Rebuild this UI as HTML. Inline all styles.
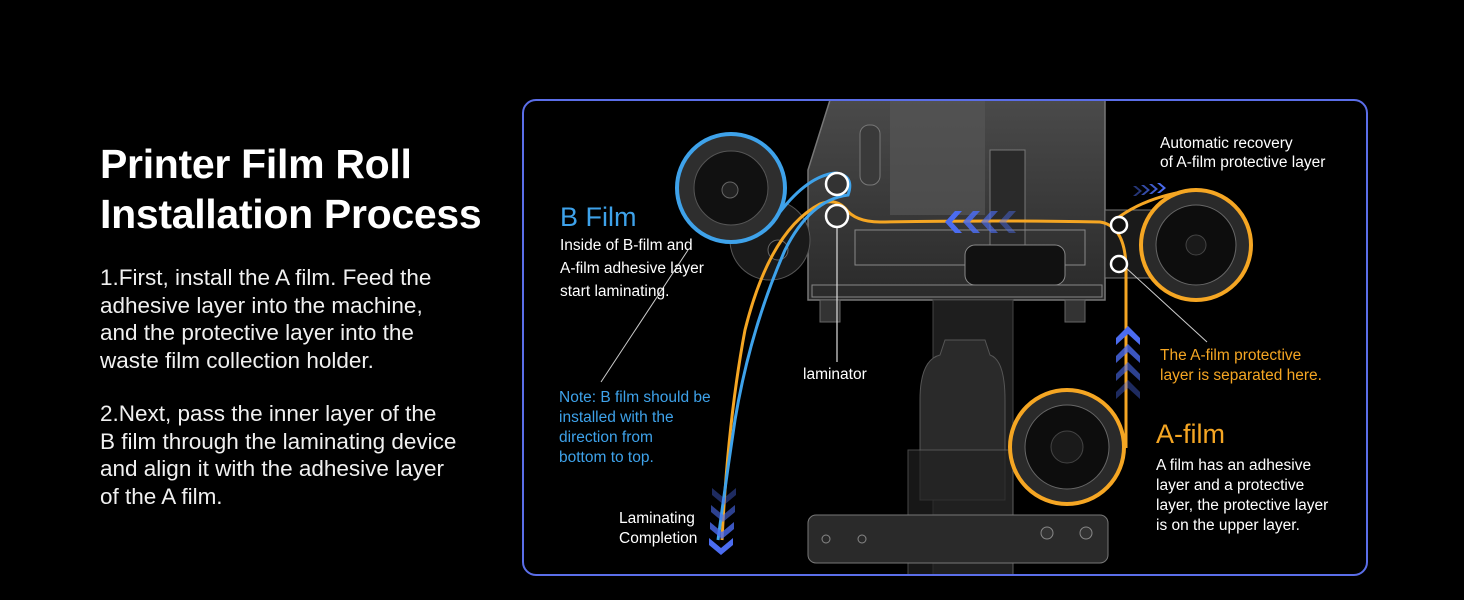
<!DOCTYPE html>
<html><head><meta charset="utf-8"><style>
html,body{margin:0;padding:0;background:#000;}
body{width:1464px;height:600px;position:relative;overflow:hidden;font-family:"Liberation Sans",sans-serif;color:#fff;}
.h{position:absolute;left:100px;top:139px;font-size:41px;font-weight:bold;line-height:50px;letter-spacing:-0.3px;}
.p{position:absolute;left:100px;font-size:22.5px;line-height:27.5px;color:#f0f0f0;}
svg{position:absolute;left:0;top:0;}
</style></head><body>
<div class="h">Printer Film Roll<br>Installation Process</div>
<div class="p" style="top:264px">1.First, install the A film. Feed the<br>adhesive layer into the machine,<br>and the protective layer into the<br>waste film collection holder.</div>
<div class="p" style="top:400px">2.Next, pass the inner layer of the<br>B film through the laminating device<br>and align it with the adhesive layer<br>of the A film.</div>
<svg width="1464" height="600" viewBox="0 0 1464 600" font-family="Liberation Sans, sans-serif">
<defs>
<linearGradient id="bd" x1="0" y1="0" x2="0" y2="1"><stop offset="0" stop-color="#4a4a4a"/><stop offset="1" stop-color="#2a2a2a"/></linearGradient>
<clipPath id="cp"><rect x="523" y="100" width="844" height="475" rx="13"/></clipPath>
</defs>
<g clip-path="url(#cp)">
<path d="M830 100 L1105 100 L1105 300 L808 300 L808 170 Z" fill="url(#bd)" stroke="#777" stroke-width="1.5"/>
<rect x="890" y="100" width="95" height="115" fill="#555" opacity="0.7"/>
<rect x="860" y="125" width="20" height="60" rx="9" fill="#3a3a3a" stroke="#777"/>
<rect x="990" y="150" width="35" height="120" fill="#2a2a2a" stroke="#777"/>
<rect x="855" y="230" width="230" height="35" fill="none" stroke="#888"/>
<rect x="965" y="245" width="100" height="40" rx="10" fill="#111" stroke="#888"/>
<rect x="812" y="285" width="290" height="12" fill="none" stroke="#888"/>
<rect x="1105" y="210" width="80" height="68" fill="#1a1a1a" stroke="#777"/>
<circle cx="770" cy="240" r="40" fill="#1a1a1a" stroke="#555"/>
<circle cx="778" cy="250" r="10" fill="#111" stroke="#666"/>
<rect x="820" y="300" width="20" height="22" fill="#333" stroke="#666"/>
<rect x="1065" y="300" width="20" height="22" fill="#333" stroke="#666"/>
<rect x="933" y="300" width="80" height="280" fill="#1e1e1e" stroke="#444"/>
<path d="M920 400 Q920 360 940 355 L945 340 L985 340 L990 355 Q1005 360 1005 400 L1005 500 L920 500 Z" fill="#2a2a2a" stroke="#555"/>
<rect x="908" y="450" width="105" height="125" fill="#222" opacity="0.7" stroke="#666"/>
<rect x="808" y="515" width="300" height="48" rx="8" fill="#2a2a2a" stroke="#777"/>
<circle cx="826" cy="539" r="4" fill="none" stroke="#888"/>
<circle cx="862" cy="539" r="4" fill="none" stroke="#888"/>
<circle cx="1047" cy="533" r="6" fill="#333" stroke="#888"/>
<circle cx="1086" cy="533" r="6" fill="#333" stroke="#888"/>
<circle cx="731" cy="188" r="54" fill="#2e2e2e" stroke="#3ea2ea" stroke-width="4"/>
<circle cx="731" cy="188" r="37" fill="#111" stroke="#555"/>
<circle cx="730" cy="190" r="8" fill="#222" stroke="#666"/>
<circle cx="1196" cy="245" r="55" fill="#2a2a2a" stroke="#f5a623" stroke-width="4"/>
<circle cx="1196" cy="245" r="40" fill="#0d0d0d" stroke="#666"/>
<circle cx="1196" cy="245" r="10" fill="#1a1a1a" stroke="#444"/>
<circle cx="1067" cy="447" r="57" fill="#2a2a2a" stroke="#f5a623" stroke-width="4"/>
<circle cx="1067" cy="447" r="42" fill="#0d0d0d" stroke="#666"/>
<circle cx="1067" cy="447" r="16" fill="#1a1a1a" stroke="#444"/>
<line x1="688" y1="250" x2="601" y2="382" stroke="#ccc" stroke-width="1"/>
<line x1="837" y1="226" x2="837" y2="362" stroke="#ddd" stroke-width="1.2"/>
<line x1="1125" y1="267" x2="1207" y2="342" stroke="#ccc" stroke-width="1"/>
<path d="M1126 448 L1126 270 Q1126 226 1100 222 Q1000 220 880 222 Q855 222 845 208 Q835 198 820 204 Q770 230 745 330 Q728 420 722 540" fill="none" stroke="#f5a623" stroke-width="3"/>
<path d="M1119 217 Q1150 195 1196 190" fill="none" stroke="#f5a623" stroke-width="3"/>
<path d="M780 212 Q808 176 835 173 Q855 175 848 195 Q810 200 785 250 Q750 330 735 420 Q726 480 718 540" fill="none" stroke="#3ea2ea" stroke-width="3"/>
<circle cx="837" cy="184" r="11" fill="#333" stroke="#fff" stroke-width="2.5"/>
<circle cx="837" cy="216" r="11" fill="#333" stroke="#fff" stroke-width="2.5"/>
<circle cx="1119" cy="225" r="8" fill="#111" stroke="#fff" stroke-width="2.5"/>
<circle cx="1119" cy="264" r="8" fill="#111" stroke="#fff" stroke-width="2.5"/>
<g fill="#4b6cf0">
<path d="M955 211 L945 222 L955 233 L962 233 L952 222 L962 211 Z"/>
<path d="M973 211 L963 222 L973 233 L980 233 L970 222 L980 211 Z" opacity="0.85"/>
<path d="M991 211 L981 222 L991 233 L998 233 L988 222 L998 211 Z" opacity="0.65"/>
<path d="M1009 211 L999 222 L1009 233 L1016 233 L1006 222 L1016 211 Z" opacity="0.45"/>
</g>
<g fill="#4b6cf0">
<path d="M1133 186 L1139 191 L1133 196 L1136 196 L1142 191 L1136 186Z" opacity="0.5"/>
<path d="M1141 185 L1147 190 L1141 195 L1144 195 L1150 190 L1144 185Z" opacity="0.7"/>
<path d="M1149 184 L1155 189 L1149 194 L1152 194 L1158 189 L1152 184Z" opacity="0.85"/>
<path d="M1157 183 L1163 188 L1157 193 L1160 193 L1166 188 L1160 183Z"/>
</g>
<g fill="#4b6cf0">
<path d="M1116 338 L1128 326 L1140 338 L1140 345 L1128 334 L1116 345Z"/>
<path d="M1116 356 L1128 344 L1140 356 L1140 363 L1128 352 L1116 363Z" opacity="0.8"/>
<path d="M1116 374 L1128 362 L1140 374 L1140 381 L1128 370 L1116 381Z" opacity="0.6"/>
<path d="M1116 392 L1128 380 L1140 392 L1140 399 L1128 388 L1116 399Z" opacity="0.4"/>
</g>
<g fill="#4b6cf0">
<path d="M712 488 L724 498 L736 488 L736 495 L724 505 L712 495Z" opacity="0.4"/>
<path d="M711 505 L723 515 L735 505 L735 512 L723 522 L711 512Z" opacity="0.6"/>
<path d="M710 522 L722 532 L734 522 L734 529 L722 539 L710 529Z" opacity="0.8"/>
<path d="M709 538 L721 548 L733 538 L733 545 L721 555 L709 545Z"/>
</g>
</g>
<rect x="523" y="100" width="844" height="475" rx="13" fill="none" stroke="#5b6ee8" stroke-width="2"/>
<text x="560" y="226" font-size="27" fill="#3ea2ea">B Film</text>
<g font-size="15.5" fill="#fff">
<text x="560" y="250">Inside of B-film and</text>
<text x="560" y="273">A-film adhesive layer</text>
<text x="560" y="296">start laminating.</text>
<text x="803" y="379">laminator</text>
<text x="619" y="523">Laminating</text>
<text x="619" y="543">Completion</text>
<text x="1160" y="148">Automatic recovery</text>
<text x="1160" y="167">of A-film protective layer</text>
<text x="1156" y="470">A film has an adhesive</text>
<text x="1156" y="490">layer and a protective</text>
<text x="1156" y="510">layer, the protective layer</text>
<text x="1156" y="530">is on the upper layer.</text>
</g>
<g font-size="15.5" fill="#3ea2ea">
<text x="559" y="402">Note: B film should be</text>
<text x="559" y="422">installed with the</text>
<text x="559" y="442">direction from</text>
<text x="559" y="462">bottom to top.</text>
</g>
<g font-size="15.5" fill="#f5a623">
<text x="1160" y="360">The A-film protective</text>
<text x="1160" y="380">layer is separated here.</text>
</g>
<text x="1156" y="443" font-size="27" fill="#f5a623">A-film</text>
</svg>
</body></html>
